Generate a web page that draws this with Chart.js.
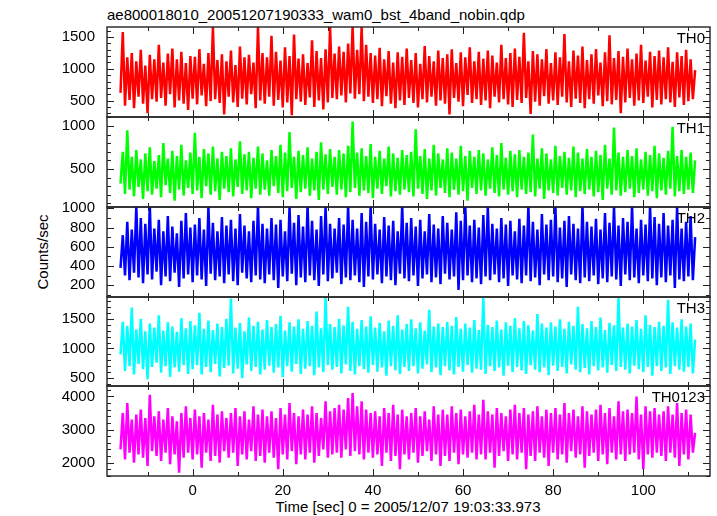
<!DOCTYPE html>
<html>
<head>
<meta charset="utf-8">
<script src="https://cdn.jsdelivr.net/npm/chart.js@4.4.1/dist/chart.umd.min.js"></script>
<style>
  html, body { margin: 0; padding: 0; background: #fff; }
  #wrap { position: relative; width: 717px; height: 516px; overflow: hidden;
          font-family: "Liberation Sans", Arial, sans-serif; color: #000; }
  .panel { position: absolute; left: 0; }
  .txt { position: absolute; font-size: 15px; line-height: 16px; white-space: nowrap; }
</style>
</head>
<body>
<div id="wrap">
  <div class="txt" style="left:107px; top:7px;">ae800018010_20051207190333_wam0_bst_4band_nobin.qdp</div>
  <div class="txt" style="left:43px; top:252px; transform: translate(-50%, -50%) rotate(-90deg);">Counts/sec</div>
  <div class="txt" style="left:408px; top:499px; transform: translateX(-50%);">Time [sec] 0 = 2005/12/07 19:03:33.973</div>
</div>
<script>
// light curve bins: one value every 0.5 s starting at t = -16 s
const bandNames = ["TH0", "TH1", "TH2", "TH3", "TH0123"];
const binStart = -16;
const binWidth = 0.5;

const th0 = [
  620, 1580, 420, 1180, 510, 1250, 380, 1120, 560, 1300, 450, 1050, 300, 1220, 520, 1150,
  480, 1380, 540, 1100, 420, 1240, 600, 1320, 390, 1150, 500, 1270, 450, 1090, 350, 1200,
  530, 1190, 440, 1310, 580, 1080, 410, 1250, 490, 1660, 520, 1140, 460, 1230, 280, 1120,
  560, 1290, 470, 1060, 400, 1350, 530, 1180, 440, 1220, 600, 1100, 380, 1660, 500, 1250,
  450, 1180, 560, 1520, 420, 1270, 510, 1130, 390, 1340, 470, 1200, 270, 1540, 520, 1160,
  480, 1230, 430, 1090, 550, 1450, 400, 1280, 500, 1170, 360, 1310, 470, 1660, 540, 1240,
  520, 1350, 580, 1270, 470, 1400, 610, 1680, 530, 1300, 600, 1660, 490, 1380, 560, 1250,
  460, 1210, 520, 1330, 410, 1150, 570, 1280, 450, 1100, 380, 1260, 500, 1190, 430, 1320,
  540, 1140, 460, 1250, 390, 1080, 520, 1360, 470, 1200, 560, 1120, 420, 1290, 500, 1170,
  450, 1230, 280, 1310, 540, 1090, 480, 1260, 410, 1180, 590, 1340, 460, 1120, 520, 1270,
  430, 1160, 500, 1290, 380, 1210, 560, 1100, 470, 1380, 520, 1170, 440, 1250, 400, 1320,
  510, 1190, 460, 1570, 540, 1120, 290, 1280, 480, 1230, 420, 1150, 570, 1310, 450, 1090,
  500, 1260, 430, 1180, 560, 1550, 470, 1120, 400, 1290, 530, 1210, 460, 1350, 380, 1140,
  520, 1230, 450, 1310, 580, 1100, 410, 1260, 490, 1530, 440, 1170, 510, 1280, 300, 1190,
  470, 1320, 540, 1150, 420, 1240, 500, 1380, 460, 1130, 560, 1270, 390, 1200, 510, 1290,
  440, 1180, 520, 1340, 470, 1110, 400, 1260, 550, 1200, 430, 1300, 490, 1150, 520, 980
];

const th1 = [
  330, 700, 210, 950, 260, 640, 180, 720, 290, 610, 150, 680, 240, 750, 200, 590,
  270, 660, 170, 800, 310, 620, 220, 710, 130, 650, 260, 780, 190, 600, 280, 690,
  210, 920, 250, 640, 160, 730, 300, 680, 200, 760, 240, 620, 140, 700, 270, 650,
  230, 740, 180, 610, 290, 820, 210, 670, 250, 700, 160, 630, 270, 760, 200, 680,
  260, 600, 190, 720, 300, 650, 220, 780, 170, 690, 240, 930, 280, 640, 150, 710,
  230, 660, 270, 750, 190, 620, 250, 700, 140, 810, 260, 670, 210, 730, 290, 640,
  200, 720, 260, 680, 170, 770, 230, 1050, 280, 690, 190, 740, 250, 650, 220, 790,
  160, 640, 270, 710, 210, 620, 300, 760, 180, 680, 240, 630, 200, 720, 260, 660,
  230, 700, 180, 960, 270, 650, 210, 730, 150, 620, 250, 780, 190, 680, 280, 610,
  220, 740, 170, 690, 260, 620, 200, 770, 240, 650, 130, 710, 280, 640, 210, 720,
  250, 680, 190, 610, 270, 750, 220, 660, 180, 800, 260, 630, 200, 710, 240, 670,
  170, 720, 260, 640, 210, 690, 230, 900, 180, 620, 270, 740, 150, 680, 250, 610,
  220, 770, 190, 650, 280, 700, 200, 630, 250, 760, 170, 690, 240, 620, 210, 730,
  260, 640, 180, 710, 230, 660, 140, 780, 270, 620, 200, 980, 250, 690, 190, 640,
  230, 720, 270, 650, 170, 740, 220, 610, 260, 700, 190, 660, 240, 770, 160, 680,
  250, 630, 200, 710, 270, 990, 180, 650, 240, 720, 210, 640, 260, 690, 220, 600
];

const th2 = [
  380, 720, 300, 860, 250, 780, 330, 1020, 280, 900, 220, 840, 310, 1030, 260, 790,
  340, 880, 200, 760, 290, 920, 240, 810, 330, 740, 180, 870, 270, 950, 310, 800,
  230, 830, 300, 900, 260, 780, 190, 1020, 320, 850, 250, 760, 290, 910, 220, 820,
  310, 880, 240, 790, 200, 940, 330, 820, 270, 760, 230, 870, 300, 1030, 260, 840,
  220, 790, 310, 900, 250, 830, 170, 880, 290, 760, 240, 1020, 320, 850, 200, 930,
  280, 810, 230, 1030, 300, 870, 250, 780, 190, 920, 310, 1020, 240, 840, 270, 790,
  330, 900, 210, 830, 280, 1030, 250, 880, 300, 790, 230, 950, 180, 860, 290, 1020,
  260, 840, 310, 780, 220, 910, 290, 820, 250, 870, 200, 760, 320, 1030, 270, 850,
  240, 900, 300, 810, 190, 880, 270, 760, 310, 940, 230, 830, 280, 790, 210, 920,
  320, 850, 260, 780, 290, 960, 150, 870, 250, 1030, 300, 820, 230, 880, 270, 800,
  210, 930, 290, 1020, 250, 840, 310, 790, 230, 900, 270, 830, 190, 870, 300, 760,
  260, 890, 220, 820, 300, 1030, 240, 860, 280, 780, 200, 940, 310, 830, 250, 880,
  290, 1020, 230, 800, 270, 870, 180, 920, 310, 840, 250, 790, 220, 1030, 280, 860,
  240, 810, 300, 890, 210, 780, 270, 950, 230, 850, 290, 1020, 260, 820, 190, 900,
  310, 860, 250, 1030, 280, 790, 220, 880, 300, 830, 240, 1020, 270, 910, 200, 840,
  280, 950, 230, 820, 300, 880, 170, 1020, 260, 790, 240, 860, 290, 920, 250, 700
];

const th3 = [
  900, 1450, 620, 1380, 700, 1690, 560, 1320, 740, 1500, 650, 1290, 480, 1420, 690, 1350,
  760, 1560, 590, 1300, 700, 1440, 520, 1370, 680, 1280, 610, 1510, 720, 1340, 570, 1460,
  650, 1390, 720, 1600, 560, 1330, 690, 1470, 600, 1310, 740, 1420, 530, 1360, 670, 1500,
  710, 1840, 580, 1350, 660, 1430, 500, 1290, 730, 1520, 620, 1380, 690, 1450, 560, 1320,
  640, 1480, 710, 1360, 590, 1410, 680, 1550, 520, 1300, 700, 1440, 610, 1370, 740, 1490,
  570, 1330, 660, 1460, 700, 1380, 550, 1620, 680, 1340, 600, 1850, 720, 1410, 640, 1360,
  690, 1500, 580, 1390, 730, 1700, 620, 1450, 560, 1330, 700, 1480, 650, 1370, 590, 1540,
  720, 1350, 610, 1430, 680, 1290, 540, 1470, 700, 1380, 630, 1560, 570, 1320, 690, 1410,
  620, 1490, 700, 1340, 580, 1440, 660, 1300, 730, 1650, 600, 1370, 680, 1420, 550, 1360,
  700, 1450, 630, 1380, 560, 1530, 690, 1330, 610, 1420, 720, 1350, 590, 1480, 660, 1310,
  640, 1860, 570, 1400, 700, 1360, 620, 1470, 680, 1320, 540, 1440, 710, 1380, 600, 1510,
  690, 1340, 630, 1460, 570, 1390, 720, 1300, 640, 1580, 600, 1420, 680, 1350, 550, 1440,
  710, 1370, 620, 1490, 690, 1330, 580, 1450, 730, 1380, 640, 1700, 600, 1410, 670, 1340,
  560, 1460, 700, 1360, 630, 1520, 680, 1310, 590, 1430, 720, 1390, 620, 1850, 690, 1350,
  640, 1420, 580, 1370, 710, 1480, 650, 1330, 600, 1560, 690, 1400, 540, 1360, 700, 1450,
  620, 1380, 680, 1820, 570, 1440, 700, 1350, 640, 1490, 610, 1370, 690, 1420, 580, 1150
];

const th0123 = [
  2400, 3500, 2100, 3800, 2300, 3300, 2000, 3450, 2250, 3600, 2150, 3350, 1900, 4050, 2350, 3400,
  2200, 3550, 2050, 3300, 2300, 3650, 1950, 3400, 2250, 3250, 1700, 3500, 2150, 3700, 2300, 3350,
  2100, 3600, 2250, 3400, 1850, 3500, 2300, 3300, 2050, 3750, 2200, 3450, 2000, 3550, 2350, 3350,
  2150, 3500, 2300, 3650, 1900, 3400, 2250, 3550, 2100, 3300, 2350, 3700, 2050, 3450, 2200, 3600,
  2000, 3400, 2300, 3550, 2150, 3350, 1800, 3650, 2250, 3450, 2100, 3800, 2350, 3500, 1950, 3400,
  2250, 3600, 2100, 3450, 2300, 3700, 2000, 3500, 2200, 3350, 2400, 3850, 2150, 3550, 2250, 3650,
  2300, 3750, 2150, 3600, 2400, 3950, 2200, 4100, 2350, 3700, 2250, 3850, 2100, 3600, 2300, 3500,
  2150, 3550, 2250, 3400, 1900, 3650, 2300, 3500, 2050, 3750, 2200, 3450, 1800, 3600, 2250, 3400,
  2100, 3500, 2300, 3650, 2000, 3400, 2200, 3550, 2350, 3300, 2050, 3700, 2250, 3450, 1900, 3600,
  2200, 3450, 2050, 3700, 2300, 3500, 1950, 3600, 2250, 3400, 2150, 3550, 2300, 3750, 2100, 3450,
  2250, 3900, 2100, 3550, 2300, 3450, 1850, 3650, 2200, 3500, 2350, 3400, 2050, 3600, 2250, 3750,
  2100, 3500, 2300, 3650, 1800, 3450, 2200, 3550, 2050, 3700, 2300, 3400, 2150, 3600, 1900, 3500,
  2300, 3650, 2100, 3450, 2250, 3800, 2000, 3500, 2350, 3600, 2150, 3400, 2250, 3700, 1850, 3550,
  2200, 3450, 2300, 3600, 2050, 3750, 2250, 3500, 1950, 3650, 2300, 3400, 2100, 3850, 2250, 3550,
  2050, 3600, 2250, 3500, 2300, 4000, 2100, 3450, 1800, 3700, 2250, 3550, 2150, 3650, 2300, 3450,
  2200, 3550, 2050, 3700, 2300, 3450, 2150, 3800, 1900, 3500, 2250, 3600, 2100, 3450, 2300, 2900
];

const seriesValues = [th0, th1, th2, th3, th0123];
const seriesColors = ["#ff0000", "#00ff00", "#0000ff", "#00ffff", "#ff00ff"];

// axis ranges and tick labels
const timeRange = [-19, 114.8];
const timeTicks = [0, 20, 40, 60, 80, 100];
const yRanges = [[240, 1660], [57, 1104], [76, 1014], [367, 1867], [1597, 4315]];
const yTicks = [
  [500, 1000, 1500],
  [500, 1000],
  [200, 400, 600, 800, 1000],
  [500, 1000, 1500],
  [2000, 3000, 4000]
];
const yMinorSteps = [100, 100, 100, 100, 200];

// page layout
const panelTops = [27, 117, 207, 297, 386];
const panelHeights = [90, 90, 90, 89, 90];
const plotLeft = 107;
const plotRight = 710;
const pad = 12;
const xAxisHeight = 40;
const fontFamily = '"Liberation Sans", Arial, sans-serif';

// boxed frame with inward ticks on all four sides, placed with the chart's own scales
function drawFrame(ctx, chart, majors, minorStep) {
  const a = chart.chartArea;
  const xs = chart.scales.x, ys = chart.scales.y;
  ctx.strokeStyle = "#222";
  ctx.lineWidth = 1;
  ctx.beginPath();
  for (let v = -10; v <= xs.max; v += 10) {
    const px = Math.round(xs.getPixelForValue(v)) + 0.5;
    const len = v % 20 === 0 ? 7 : 4;
    ctx.moveTo(px, a.top); ctx.lineTo(px, a.top + len);
    ctx.moveTo(px, a.bottom); ctx.lineTo(px, a.bottom - len);
  }
  for (let v = Math.ceil(ys.min / minorStep) * minorStep; v <= ys.max; v += minorStep) {
    const py = Math.round(ys.getPixelForValue(v)) + 0.5;
    const len = majors.indexOf(v) >= 0 ? 7 : 4;
    ctx.moveTo(a.left, py); ctx.lineTo(a.left + len, py);
    ctx.moveTo(a.right, py); ctx.lineTo(a.right - len, py);
  }
  ctx.stroke();
  ctx.lineWidth = 1.4;
  ctx.strokeRect(a.left, a.top, a.right - a.left, a.bottom - a.top);
}

const wrap = document.getElementById("wrap");

seriesValues.forEach((values, i) => {
  const last = i === seriesValues.length - 1;
  const h = panelHeights[i] + pad + (last ? xAxisHeight : pad);

  const box = document.createElement("div");
  box.className = "panel";
  box.style.top = (panelTops[i] - pad) + "px";
  box.style.width = "717px";
  box.style.height = h + "px";
  const canvas = document.createElement("canvas");
  canvas.width = 717;
  canvas.height = h;
  box.appendChild(canvas);
  wrap.appendChild(box);

  const label = document.createElement("div");
  label.className = "txt";
  label.textContent = bandNames[i];
  label.style.right = "12px";
  label.style.top = (panelTops[i] + 2.5) + "px";
  wrap.appendChild(label);

  const points = values.map((v, k) => ({ x: binStart + k * binWidth, y: v }));

  const chart = new Chart(canvas, {
    type: "line",
    data: {
      datasets: [{
        label: bandNames[i],
        data: points,
        borderColor: seriesColors[i],
        borderWidth: 2.5,
        borderJoinStyle: "bevel",
        pointRadius: 0,
        tension: 0,
        fill: false
      }]
    },
    options: {
      responsive: false,
      animation: false,
      devicePixelRatio: 1,
      events: [],
      layout: { padding: { left: 0, right: 717 - plotRight, top: pad, bottom: last ? 0 : pad } },
      plugins: {
        legend: { display: false },
        tooltip: { enabled: false }
      },
      scales: {
        x: {
          type: "linear",
          min: timeRange[0],
          max: timeRange[1],
          display: last,
          grid: { display: false, drawTicks: false },
          border: { display: false },
          afterBuildTicks: (s) => { s.ticks = timeTicks.map((v) => ({ value: v })); },
          afterFit: (s) => {
            s.height = last ? xAxisHeight : 0;
            s.paddingLeft = 0;
            s.paddingRight = 0;
          },
          ticks: { autoSkip: false, maxRotation: 0, padding: 6, color: "#000",
                   font: { family: fontFamily, size: 15 },
                   callback: (v) => String(v) }
        },
        y: {
          type: "linear",
          min: yRanges[i][0],
          max: yRanges[i][1],
          grid: { display: false, drawTicks: false },
          border: { display: false },
          afterBuildTicks: (s) => { s.ticks = yTicks[i].map((v) => ({ value: v })); },
          afterFit: (s) => {
            s.width = plotLeft;
            s.paddingTop = 0;
            s.paddingBottom = 0;
          },
          ticks: { autoSkip: false, padding: 12, color: "#000",
                   font: { family: fontFamily, size: 15 },
                   callback: (v) => String(v) }
        }
      }
    }
  });

  // frame layer on top of the chart canvas
  const overlay = document.createElement("canvas");
  overlay.width = 717;
  overlay.height = h;
  overlay.style.position = "absolute";
  overlay.style.left = "0";
  overlay.style.top = "0";
  box.appendChild(overlay);
  drawFrame(overlay.getContext("2d"), chart, yTicks[i], yMinorSteps[i]);
});
</script>
</body>
</html>
